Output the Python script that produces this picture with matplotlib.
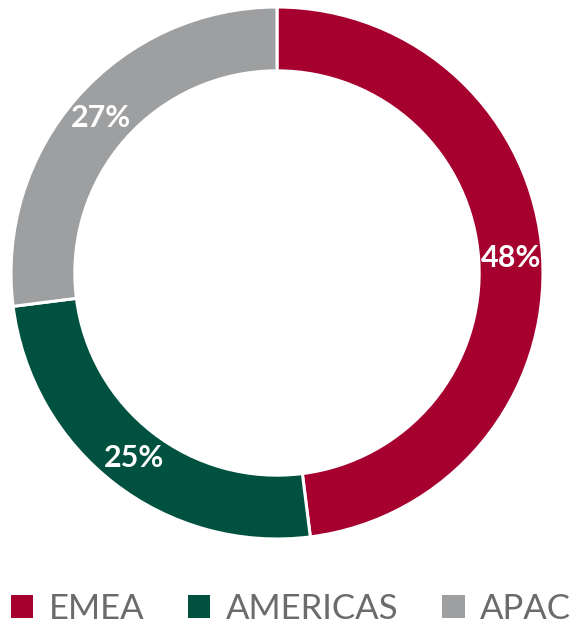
import matplotlib
matplotlib.use("Agg")
import matplotlib.pyplot as plt
from matplotlib.patches import Patch
import numpy as np

regions = ["EMEA", "AMERICAS", "APAC"]
shares = [48, 25, 27]
colors = ["#A6002F", "#00513F", "#9E9FA1"]

plt.rcParams["font.family"] = ["Lato", "DejaVu Sans"]

fig = plt.figure(figsize=(5.82, 6.28), dpi=100)
ax = fig.add_axes([11 / 582, (628 - 539) / 628, 532 / 582, 532 / 628])

wedges, _ = ax.pie(shares, colors=colors, startangle=90, counterclock=False,
                   radius=1.0, wedgeprops=dict(width=0.24, edgecolor="white", linewidth=2.2))

# percentage labels at the middle of the ring
start = 90.0
for val in shares:
    mid = np.deg2rad(start - val * 3.6 / 2)
    r = 0.88
    ax.text(r * np.cos(mid), r * np.sin(mid), f"{val}%", ha="center", va="center",
            color="white", fontsize=22, fontweight="bold")
    start -= val * 3.6

ax.set_xlim(-1, 1)
ax.set_ylim(-1, 1)
ax.set_aspect("equal")
ax.axis("off")

handles = [Patch(facecolor=c, edgecolor="none") for c in colors]
fig.legend(handles, regions, loc="center", bbox_to_anchor=(0.5, 1 - 609 / 628), ncol=3,
           frameon=False, fontsize=25, labelcolor="#6B6B6B", handlelength=0.65,
           handleheight=0.65, handletextpad=0.45, columnspacing=1.25)

fig.savefig("out.png", dpi=100)
